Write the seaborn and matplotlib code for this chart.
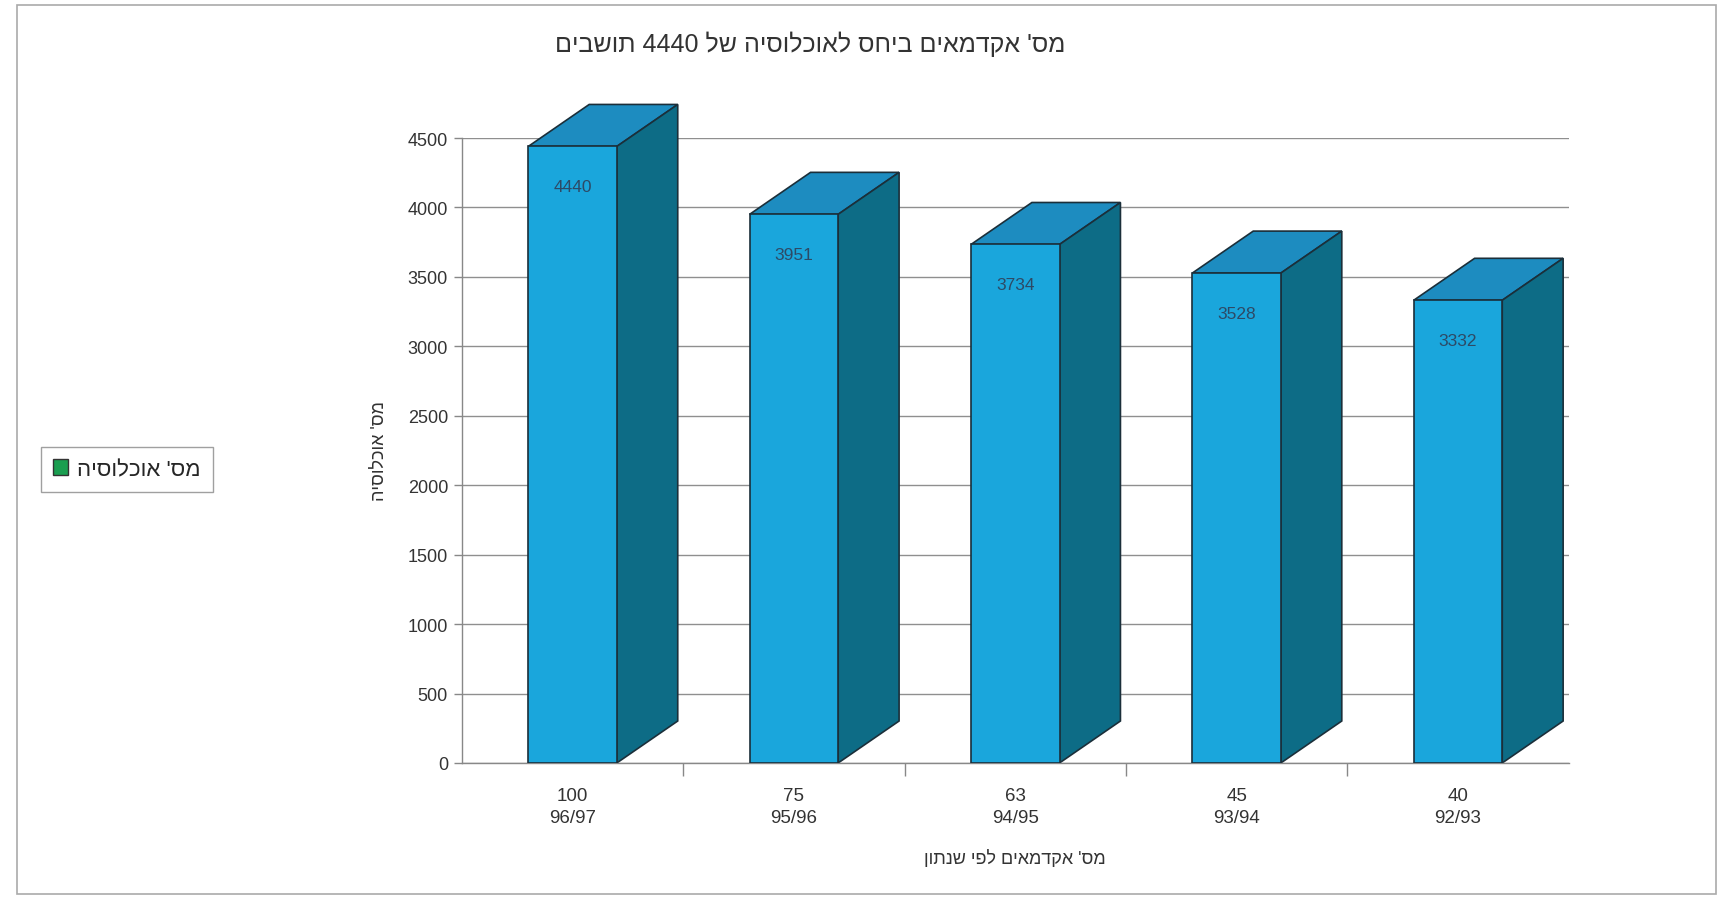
import re
import numpy as np
import pandas as pd
import matplotlib.pyplot as plt
import seaborn as sns
from matplotlib.patches import Polygon, Patch, Rectangle

# data
years = ['96/97', '95/96', '94/95', '93/94', '92/93']
academics = [100, 75, 63, 45, 40]
population = [4440, 3951, 3734, 3528, 3332]

title = "מס' אקדמאים ביחס לאוכלוסיה של 4440 תושבים"
ylabel = "מס' אוכלוסיה"
xlabel = "מס' אקדמאים לפי שנתון"
legend_label = "מס' אוכלוסיה"


def visual(s):
    # matplotlib has no bidi support: flip to visual order, keep number runs LTR
    r = s[::-1]
    return re.sub(r'[0-9/]+', lambda m: m.group(0)[::-1], r)


sns.set_style('white')
plt.rcParams['font.family'] = ['Liberation Sans', 'DejaVu Sans']

front_c = '#1aa6dc'
top_c = '#1d8cc0'
side_c = '#0d6c86'
edge_c = '#1b2f3a'
text_c = '#333333'

df = pd.DataFrame({
    'label': [f'{a}\n{y}' for a, y in zip(academics, years)],
    'population': population,
})

fig = plt.figure(figsize=(17.32, 9.03), dpi=100)
ax = fig.add_axes([0.2667, 0.154, 0.639, 0.692])

# gridlines behind bars
for v in range(0, 5000, 500):
    ax.axhline(v, color='#8f8f8f', lw=1.0, zorder=0)

sns.barplot(data=df, x='label', y='population', color=front_c, width=0.4,
            edgecolor=edge_c, linewidth=1.2, saturation=1, ax=ax, zorder=3)

dx, dy = 0.275, 302
for p, v in zip(ax.patches, population):
    x0 = p.get_x()
    x1 = x0 + p.get_width()
    top = Polygon([(x0, v), (x0 + dx, v + dy), (x1 + dx, v + dy), (x1, v)],
                  closed=True, facecolor=top_c, edgecolor=edge_c, lw=1.2,
                  zorder=2, clip_on=False)
    side = Polygon([(x1, 0), (x1 + dx, dy), (x1 + dx, v + dy), (x1, v)],
                   closed=True, facecolor=side_c, edgecolor=edge_c, lw=1.2,
                   zorder=2, clip_on=False)
    ax.add_patch(top)
    ax.add_patch(side)
    ax.text(x0 + p.get_width() / 2, v - 290, str(v), ha='center', va='center',
            fontsize=12.5, color='#2d4a66', zorder=4)

ax.set_xlim(-0.5, 4.5)
ax.set_ylim(0, 4500)
ax.set_yticks(range(0, 5000, 500))
ax.set_xticks([0.5, 1.5, 2.5, 3.5], minor=True)
ax.tick_params(axis='x', which='major', length=0, pad=17, labelsize=13.5, labelcolor=text_c)
ax.tick_params(axis='x', which='minor', length=9, width=1, color='#888888', direction='out')
ax.tick_params(axis='y', length=6, width=1, color='#888888', direction='out',
               labelsize=13, labelcolor=text_c, pad=4)
ax.xaxis.set_ticks_position('bottom')
ax.yaxis.set_ticks_position('left')
for lbl in ax.get_xticklabels():
    lbl.set_multialignment('center')
    lbl.set_linespacing(1.45)

for s in ['top', 'right']:
    ax.spines[s].set_visible(False)
for s in ['left', 'bottom']:
    ax.spines[s].set_color('#888888')
    ax.spines[s].set_linewidth(1.0)

ax.set_xlabel(visual(xlabel), fontsize=13, color=text_c, labelpad=16)
ax.set_ylabel(visual(ylabel), fontsize=13, color=text_c, labelpad=14)

fig.text(0.468, 0.951, visual(title), ha='center', va='center', fontsize=18, color=text_c)

fig.legend(handles=[Patch(facecolor='#1a9e50', edgecolor='#333333')],
           labels=[visual(legend_label)], loc='center left',
           bbox_to_anchor=(0.017, 0.479), fontsize=16, frameon=True,
           fancybox=False, edgecolor='#888888', handlelength=0.7,
           handleheight=0.7, handletextpad=0.4, borderpad=0.55)

# outer chart frame
fig.patches.append(Rectangle((0.01, 0.009), 0.981, 0.984, transform=fig.transFigure,
                             fill=False, edgecolor='#aaaaaa', lw=1.2))

fig.savefig('out.png', dpi=100)
